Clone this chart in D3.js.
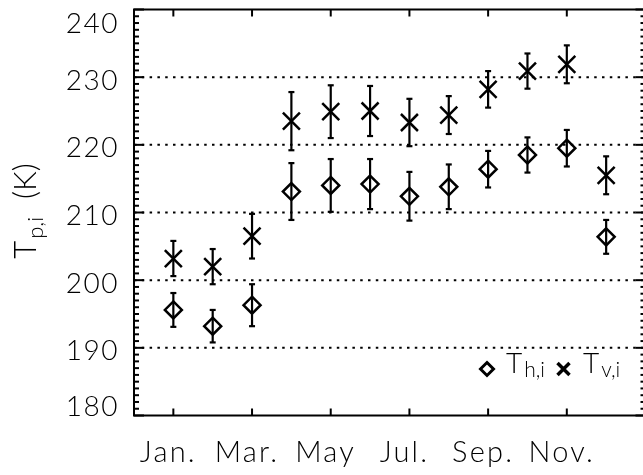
<!DOCTYPE html>
<html>
<head>
<meta charset="utf-8">
<script src="https://cdn.jsdelivr.net/npm/d3@7"></script>
<style>
  html, body { margin: 0; padding: 0; background: #fff; }
  svg { display: block; }
  text { font-family: Lato, "DejaVu Sans", sans-serif; font-weight: 300; fill: #000; -webkit-font-smoothing: antialiased; }
  .txt { opacity: 0.999; }
</style>
</head>
<body>
<svg id="chart" width="643" height="475"></svg>
<script>
// ---- data ----
const months = [1, 2, 3, 4, 5, 6, 7, 8, 9, 10, 11, 12];
const tH     = [195.6, 193.2, 196.3, 213.1, 214.0, 214.2, 212.4, 213.8, 216.4, 218.5, 219.5, 206.4];
const tHErr  = [2.5, 2.4, 3.1, 4.2, 3.9, 3.7, 3.6, 3.3, 2.7, 2.6, 2.7, 2.5];
const tV     = [203.2, 202.0, 206.5, 223.5, 224.9, 225.0, 223.3, 224.4, 228.2, 230.9, 231.9, 215.5];
const tVErr  = [2.6, 2.6, 3.3, 4.3, 3.9, 3.7, 3.5, 2.8, 2.7, 2.6, 2.8, 2.8];
const xTickMonths = [1, 3, 5, 7, 9, 11];
const xTickLabels = ["Jan.", "Mar.", "May", "Jul.", "Sep.", "Nov."];
const yTicks = [180, 190, 200, 210, 220, 230, 240];
const gridValues = [190, 200, 210, 220, 230];

// ---- layout ----
const svg = d3.select("#chart");
const L = 134, R = 645.5, T = 9.5, B = 415.5;
const x = d3.scaleLinear().domain([0, 13]).range([L, R]);
const y = d3.scaleLinear().domain([180, 240]).range([B, T]);

// gridlines
svg.append("g").selectAll("line").data(gridValues).join("line")
  .attr("x1", L).attr("x2", R)
  .attr("y1", d => y(d)).attr("y2", d => y(d))
  .attr("stroke", "#000").attr("stroke-width", 2)
  .attr("stroke-dasharray", "2.5,5.3");

// frame
svg.append("rect").attr("x", L).attr("y", T).attr("width", R - L).attr("height", B - T)
  .attr("fill", "none").attr("stroke", "#000").attr("stroke-width", 2);

// y minor/major ticks (left and right)
const yMinor = d3.range(181, 240, 1).filter(v => v % 10 !== 0);
const yAll = yMinor.map(v => ({v, len: 5})).concat(yTicks.map(v => ({v, len: 10})));
const tk = svg.append("g").attr("stroke", "#000").attr("stroke-width", 2);
tk.selectAll("line.yl").data(yAll).join("line").attr("class", "yl")
  .attr("x1", L).attr("x2", d => L + d.len)
  .attr("y1", d => y(d.v)).attr("y2", d => y(d.v));
tk.selectAll("line.yr").data(yAll).join("line").attr("class", "yr")
  .attr("x1", R).attr("x2", d => R - d.len)
  .attr("y1", d => y(d.v)).attr("y2", d => y(d.v));
// x ticks bottom and top
tk.selectAll("line.xb").data(xTickMonths).join("line").attr("class", "xb")
  .attr("x1", d => x(d)).attr("x2", d => x(d)).attr("y1", B).attr("y2", B - 7);
tk.selectAll("line.xt").data(xTickMonths).join("line").attr("class", "xt")
  .attr("x1", d => x(d)).attr("x2", d => x(d)).attr("y1", T).attr("y2", T + 7);

const txt = svg.append("g").attr("class", "txt");

// y tick labels
txt.append("g").selectAll("text").data(yTicks).join("text")
  .attr("x", 119)
  .attr("y", d => Math.max(21.7, Math.min(404.5, y(d) + 1.5)))
  .attr("text-anchor", "end").attr("dominant-baseline", "central")
  .attr("font-size", 28).attr("letter-spacing", 1.5)
  .text(d => d);

// x tick labels
txt.append("g").selectAll("text").data(xTickMonths).join("text")
  .attr("x", d => x(d) - 5).attr("y", 462)
  .attr("text-anchor", "middle").attr("font-size", 29).attr("letter-spacing", 2.2)
  .text((d, i) => xTickLabels[i]);

// y title
const yt = txt.append("text")
  .attr("transform", "translate(36,211) rotate(-90)")
  .attr("text-anchor", "middle").attr("font-size", 31);
yt.append("tspan").text("T");
yt.append("tspan").attr("font-size", 22).attr("dy", 7).attr("dx", 2).text("p,i");
yt.append("tspan").attr("dy", -7).attr("dx", 18).text("(K)");

// ---- data marks ----
const sym = (kind, cx, cy, s) => kind === "d"
  ? `M${cx},${cy - s}L${cx + s},${cy}L${cx},${cy + s}L${cx - s},${cy}Z`
  : `M${cx - s},${cy - s}L${cx + s},${cy + s}M${cx - s},${cy + s}L${cx + s},${cy - s}`;

function drawSeries(vals, errs, kind) {
  const g = svg.append("g").attr("stroke", "#000").attr("fill", "none");
  const rows = months.map((m, i) => ({m, v: vals[i], e: errs[i]}));
  g.selectAll("line.eb").data(rows).join("line").attr("class", "eb")
    .attr("x1", d => x(d.m)).attr("x2", d => x(d.m))
    .attr("y1", d => y(d.v - d.e)).attr("y2", d => y(d.v + d.e))
    .attr("stroke-width", 2.2);
  g.selectAll("line.ct").data(rows).join("line").attr("class", "ct")
    .attr("x1", d => x(d.m) - 3).attr("x2", d => x(d.m) + 3)
    .attr("y1", d => y(d.v + d.e)).attr("y2", d => y(d.v + d.e)).attr("stroke-width", 2.2);
  g.selectAll("line.cb").data(rows).join("line").attr("class", "cb")
    .attr("x1", d => x(d.m) - 3).attr("x2", d => x(d.m) + 3)
    .attr("y1", d => y(d.v - d.e)).attr("y2", d => y(d.v - d.e)).attr("stroke-width", 2.2);
  g.selectAll("path").data(rows).join("path")
    .attr("d", d => kind === "d" ? sym("d", x(d.m), y(d.v), 8.5) : sym("x", x(d.m), y(d.v), 8.5))
    .attr("stroke-width", 2.5).attr("stroke-linejoin", "miter");
}
drawSeries(tH, tHErr, "d");
drawSeries(tV, tVErr, "x");

// ---- legend ----
const lg = svg.append("g");
lg.append("path").attr("d", sym("d", 487, 369, 6.5)).attr("fill", "none")
  .attr("stroke", "#000").attr("stroke-width", 3);
const lgt = lg.append("g").attr("class", "txt");
const t1 = lgt.append("text").attr("x", 506).attr("y", 373).attr("font-size", 28);
t1.append("tspan").text("T");
t1.append("tspan").attr("font-size", 21).attr("dy", 4).attr("dx", 2).text("h,i");
lg.append("path").attr("d", sym("x", 563.5, 369, 6)).attr("fill", "none")
  .attr("stroke", "#000").attr("stroke-width", 3.5);
const t2 = lgt.append("text").attr("x", 583).attr("y", 373).attr("font-size", 28);
t2.append("tspan").text("T");
t2.append("tspan").attr("font-size", 21).attr("dy", 4).attr("dx", 2).text("v,i");
</script>
</body>
</html>
